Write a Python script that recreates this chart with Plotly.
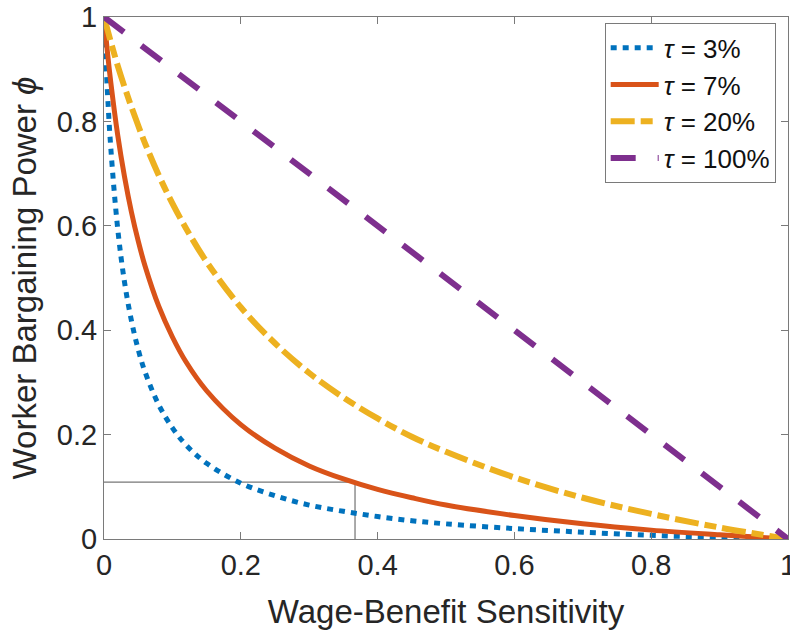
import plotly.graph_objects as go

# Wage-benefit sensitivity (x)
s_vals = [0, 0.005, 0.01, 0.02, 0.03, 0.04, 0.05, 0.06, 0.08, 0.1, 0.12, 0.15,
          0.2, 0.25, 0.3, 0.35, 0.4, 0.45, 0.5, 0.6, 0.7, 0.8, 0.9, 1.0]

# Worker bargaining power (y) for each tau
phi_tau3 = [1, 0.857, 0.748, 0.595, 0.492, 0.419, 0.363, 0.320, 0.257, 0.213, 0.180, 0.145,
            0.107, 0.083, 0.065, 0.053, 0.043, 0.035, 0.029, 0.020, 0.013, 0.007, 0.003, 0]
phi_tau7 = [1, 0.933, 0.874, 0.774, 0.694, 0.627, 0.571, 0.523, 0.446, 0.387, 0.339, 0.284,
            0.219, 0.174, 0.140, 0.115, 0.095, 0.079, 0.065, 0.045, 0.029, 0.017, 0.008, 0]
phi_tau20 = [1, 0.976, 0.952, 0.907, 0.866, 0.828, 0.792, 0.758, 0.697, 0.643, 0.595, 0.531,
             0.444, 0.375, 0.318, 0.271, 0.231, 0.196, 0.167, 0.118, 0.079, 0.048, 0.022, 0]
s_lin = [0, 0.25, 0.5, 0.75, 1.0]
phi_tau100 = [1, 0.75, 0.5, 0.25, 0]

# reference guide lines
guide_x = [0, 0.367, 0.367]
guide_y = [0.109, 0.109, 0]

labels = ["<i>τ</i> = 3%", "<i>τ</i> = 7%", "<i>τ</i> = 20%", "<i>τ</i> = 100%"]
colors = ["#0072BD", "#D95319", "#EDB120", "#7E2F8E"]

x_ticks = [0, 0.2, 0.4, 0.6, 0.8, 1]
x_ticktext = ["0", "0.2", "0.4", "0.6", "0.8", "1"]
y_ticks = [0, 0.2, 0.4, 0.6, 0.8, 1]
y_ticktext = ["0", "0.2", "0.4", "0.6", "0.8", "1"]

FONT = "Liberation Sans, Arial, Helvetica, sans-serif"
TXT = "#262626"

fig = go.Figure()
fig.add_trace(go.Scatter(x=guide_x, y=guide_y, mode="lines",
                         line=dict(color="#555555", width=1), showlegend=False,
                         hoverinfo="skip", cliponaxis=False))
fig.add_trace(go.Scatter(x=s_vals, y=phi_tau3, mode="lines", name=labels[0],
                         line=dict(color=colors[0], width=5, dash="6px,6px", shape="spline")))
fig.add_trace(go.Scatter(x=s_vals, y=phi_tau7, mode="lines", name=labels[1],
                         line=dict(color=colors[1], width=5, shape="spline")))
fig.add_trace(go.Scatter(x=s_vals, y=phi_tau20, mode="lines", name=labels[2],
                         line=dict(color=colors[2], width=6, dash="24px,6px,12px,6px", shape="spline")))
fig.add_trace(go.Scatter(x=s_lin, y=phi_tau100, mode="lines", name=labels[3],
                         line=dict(color=colors[3], width=6, dash="25px,22px")))

axis_common = dict(range=[0, 1], showgrid=False, zeroline=False, showline=True,
                   linecolor="#7a7a7a", linewidth=1, mirror="ticks", ticks="inside",
                   ticklen=7, tickcolor="#7a7a7a", tickwidth=1, automargin=False,
                   ticklabeloverflow="allow",
                   tickfont=dict(family=FONT, size=29, color=TXT))

fig.update_layout(
    width=790, height=633,
    margin=dict(l=104, r=2, t=17, b=94),
    paper_bgcolor="white", plot_bgcolor="white",
    xaxis=dict(**axis_common, tickvals=x_ticks, ticktext=x_ticktext,
               title=dict(text="Wage-Benefit Sensitivity",
                          font=dict(family=FONT, size=33, color=TXT), standoff=20)),
    yaxis=dict(**axis_common, tickvals=y_ticks, ticktext=y_ticktext,
               title=dict(text="Worker Bargaining Power <i>ϕ</i>",
                          font=dict(family=FONT, size=33, color=TXT), standoff=10)),
    legend=dict(x=0.982, y=0.988, xanchor="right", yanchor="top",
                bgcolor="white", bordercolor="#7a7a7a", borderwidth=1,
                font=dict(family=FONT, size=26, color="#111111"),
                itemwidth=48, tracegroupgap=0),
    showlegend=True,
)

fig.write_html("out.html", config={"displayModeBar": False},
               post_script="document.body.style.margin='0';document.body.style.overflow='hidden';")
